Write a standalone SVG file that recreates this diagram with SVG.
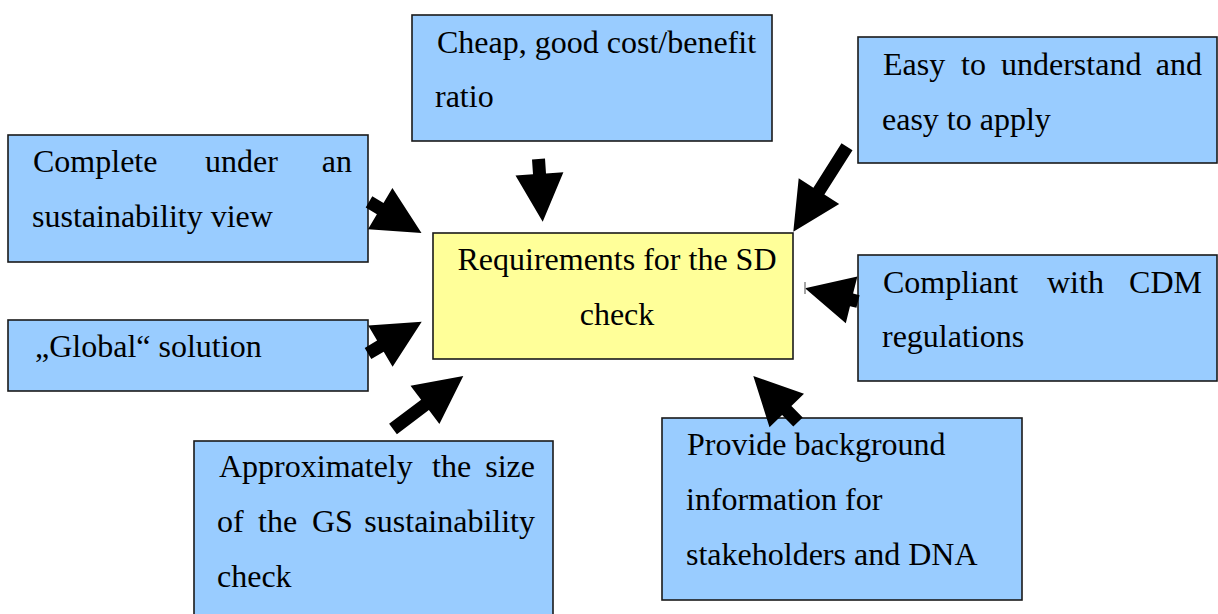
<svg xmlns="http://www.w3.org/2000/svg" width="1218" height="614" viewBox="0 0 1218 614">
<style>
.box{fill:#99CCFF;stroke:#1a1a1a;stroke-width:1.6}
.center{fill:#FFFF99;stroke:#1a1a1a;stroke-width:1.6}
text{font-family:"Liberation Serif","Times New Roman",serif;font-size:32px;fill:#000}
.arrow{fill:#000;stroke:none}
</style>
<rect width="1218" height="614" fill="#fff"/>

<g id="n-cheap">
<rect class="box" x="412" y="15" width="360" height="126"/>
<text x="437" y="53">Cheap, good cost/benefit</text>
<text x="435" y="107">ratio</text>
</g>

<g id="n-easy">
<rect class="box" x="858" y="37" width="359" height="126"/>
<text y="75"><tspan x="883">Easy</tspan><tspan x="961">to</tspan><tspan x="1001">understand</tspan></text>
<text x="1202" y="75" text-anchor="end">and</text>
<text x="882" y="130">easy to apply</text>
</g>

<g id="n-complete">
<rect class="box" x="8" y="135" width="360" height="127"/>
<text y="172"><tspan x="33">Complete</tspan><tspan x="205">under</tspan></text>
<text x="352" y="172" text-anchor="end">an</text>
<text x="32" y="227">sustainability view</text>
</g>

<g id="n-global">
<rect class="box" x="8" y="320" width="360" height="71"/>
<text x="35" y="357">„Global“ solution</text>
</g>

<g id="n-center">
<rect class="center" x="433" y="233" width="360" height="126"/>
<text x="617" y="270" text-anchor="middle">Requirements for the SD</text>
<text x="617" y="325" text-anchor="middle">check</text>
</g>

<g id="n-compliant">
<rect class="box" x="858" y="255" width="359" height="126"/>
<text y="293"><tspan x="883">Compliant</tspan><tspan x="1047">with</tspan></text>
<text x="1202" y="293" text-anchor="end">CDM</text>
<text x="882" y="347">regulations</text>
</g>

<g id="n-approx">
<rect class="box" x="194" y="441" width="359" height="185"/>
<text y="477"><tspan x="219">Approximately</tspan><tspan x="432">the</tspan></text>
<text x="535" y="477" text-anchor="end">size</text>
<text y="532"><tspan x="217">of</tspan><tspan x="258">the</tspan><tspan x="312">GS</tspan></text>
<text x="535" y="532" text-anchor="end">sustainability</text>
<text x="217" y="587">check</text>
</g>

<g id="n-provide">
<rect class="box" x="662" y="418" width="360" height="182"/>
<text x="687" y="455">Provide background</text>
<text x="686" y="510">information for</text>
<text x="686" y="565">stakeholders and DNA</text>
</g>

<g id="connectors">
<polygon class="arrow" points="532.0,159.4 533.0,174.2 515.5,175.4 542.7,221.7 563.4,172.2 546.0,173.4 545.0,158.6"/>
<polygon class="arrow" points="365.7,207.4 376.9,214.2 368.0,229.2 421.5,233 392.4,187.9 383.5,203.0 372.3,196.2"/>
<polygon class="arrow" points="371.3,359.1 383.7,351.8 392.6,366.8 421.7,321.7 368.2,325.5 377.1,340.6 364.7,347.9"/>
<polygon class="arrow" points="396.9,434.2 428.9,410.1 439.4,424.1 463.3,376 410.5,385.7 421.1,399.7 389.1,423.8"/>
<polygon class="arrow" points="852.5,150.2 824.4,194.6 839.2,203.9 793.3,231.7 798.7,178.3 813.4,187.7 841.5,143.2"/>
<polygon class="arrow" points="859.6,295.2 853.1,293.6 857.4,276.6 805,288.3 845.8,323.2 850.0,306.2 856.4,307.8"/>
<polygon class="arrow" points="802.7,417.5 791.4,405.9 804.0,393.7 753.3,376 769.5,427.2 782.1,415.0 793.3,426.5"/>
<line x1="805" y1="282" x2="805" y2="294" stroke="#888" stroke-width="1.5"/>
</g>
</svg>
